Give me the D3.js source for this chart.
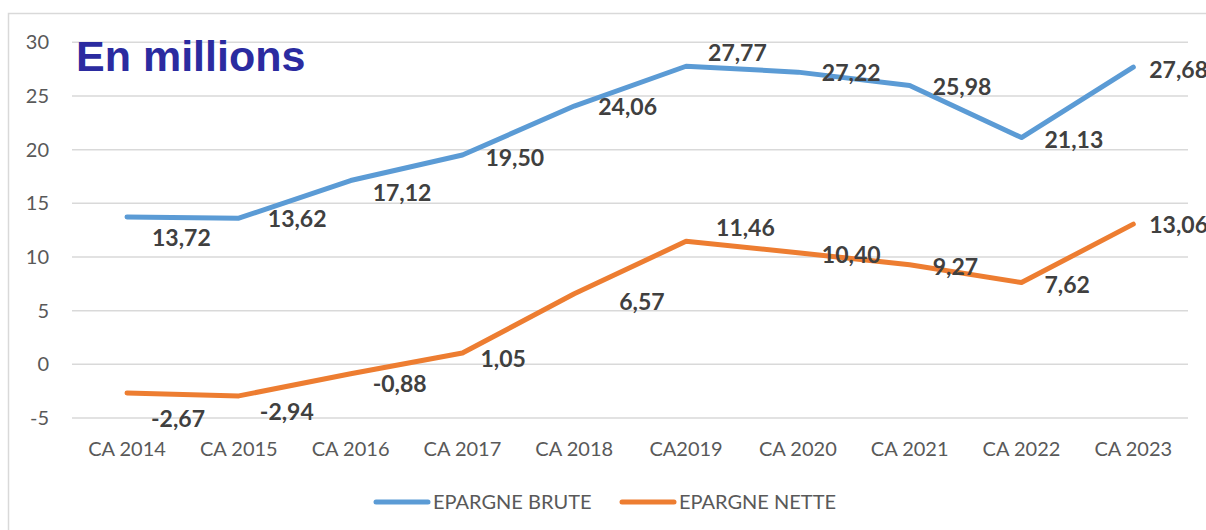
<!DOCTYPE html>
<html>
<head>
<meta charset="utf-8">
<script src="https://cdn.jsdelivr.net/npm/d3@7"></script>
<style>
  html, body { margin: 0; padding: 0; background: #fff; }
  svg { display: block; }
</style>
</head>
<body>
<svg id="chart" width="1206" height="530"></svg>
<script>
const categories = ["CA 2014","CA 2015","CA 2016","CA 2017","CA 2018","CA2019","CA 2020","CA 2021","CA 2022","CA 2023"];
const epargneBrute = [13.72,13.62,17.12,19.50,24.06,27.77,27.22,25.98,21.13,27.68];
const epargneNette = [-2.67,-2.94,-0.88,1.05,6.57,11.46,10.40,9.27,7.62,13.06];
const yTicks = [-5,0,5,10,15,20,25,30];
const seriesNames = ["EPARGNE BRUTE","EPARGNE NETTE"];
const titleText = "En millions";

// label placement nudges (dx from point to label start, dy from point to label centre)
const nudgeBrute = [[25,21],[29,1],[22,12],[23,3],[24,1],[22,-13],[24,1],[23,2],[23,2],[16,3]];
const nudgeNette = [[24,26],[21,16],[22,10],[18,6],[45,8],[30,-13],[24,2],[23,2],[23,2],[16,1]];

const svg = d3.select("#chart");
const colors = ["#5B9BD5", "#ED7D31"];
const fmt = v => v.toFixed(2).replace(".", ",");

// outer border
svg.append("rect").attr("x", 8.5).attr("y", 13.5).attr("width", 1400).attr("height", 700)
  .attr("fill", "none").attr("stroke", "#d9d9d9").attr("stroke-width", 1.5);

const x = d3.scalePoint().domain(categories).range([71.1, 1189.2]).padding(0.5);
const y = d3.scaleLinear().domain([-5, 30]).range([418, 42.3]);

// gridlines
svg.append("g").selectAll("line").data(yTicks).join("line")
  .attr("x1", 72).attr("x2", 1188)
  .attr("y1", d => y(d)).attr("y2", d => y(d))
  .attr("stroke", "#d9d9d9").attr("stroke-width", 1.5);

// y axis labels
svg.append("g").selectAll("text").data(yTicks).join("text")
  .attr("x", 49).attr("y", d => y(d) + 7)
  .attr("text-anchor", "end")
  .attr("font-family", "Lato, 'Open Sans', sans-serif")
  .attr("font-size", 20).attr("fill", "#595959")
  .text(d => d);

// x axis labels
svg.append("g").selectAll("text").data(categories).join("text")
  .attr("x", d => x(d)).attr("y", 456)
  .attr("text-anchor", "middle")
  .attr("font-family", "Lato, 'Open Sans', sans-serif")
  .attr("font-size", 20).attr("fill", "#595959")
  .text(d => d);

// title
svg.append("text").attr("x", 76).attr("y", 71)
  .attr("font-family", "'Liberation Sans', Arial, sans-serif")
  .attr("font-weight", "bold").attr("font-size", 43)
  .attr("fill", "#2B2BA0").text(titleText);

const line = d3.line().x((d, i) => x(categories[i])).y(d => y(d));
const series = [epargneBrute, epargneNette];
const nudges = [nudgeBrute, nudgeNette];

series.forEach((vals, s) => {
  svg.append("path").datum(vals)
    .attr("d", line)
    .attr("fill", "none").attr("stroke", colors[s])
    .attr("stroke-width", 5)
    .attr("stroke-linecap", "round").attr("stroke-linejoin", "round");
});

series.forEach((vals, s) => {
  svg.append("g").selectAll("text").data(vals).join("text")
    .attr("x", (d, i) => x(categories[i]) + nudges[s][i][0])
    .attr("y", (d, i) => y(d) + nudges[s][i][1] + 8)
    .attr("font-family", "Lato, 'Open Sans', sans-serif")
    .attr("font-weight", "bold").attr("font-size", 23)
    .attr("fill", "#404040")
    .text(d => fmt(d));
});

// legend
const legendX = [376, 622];
seriesNames.forEach((name, s) => {
  const g = svg.append("g");
  g.append("line").attr("x1", legendX[s]).attr("x2", legendX[s] + 52)
    .attr("y1", 502).attr("y2", 502)
    .attr("stroke", colors[s]).attr("stroke-width", 5).attr("stroke-linecap", "round");
  g.append("text").attr("x", legendX[s] + 57).attr("y", 509)
    .attr("font-family", "Lato, 'Open Sans', sans-serif")
    .attr("font-size", 20).attr("fill", "#595959")
    .text(name);
});
</script>
</body>
</html>
